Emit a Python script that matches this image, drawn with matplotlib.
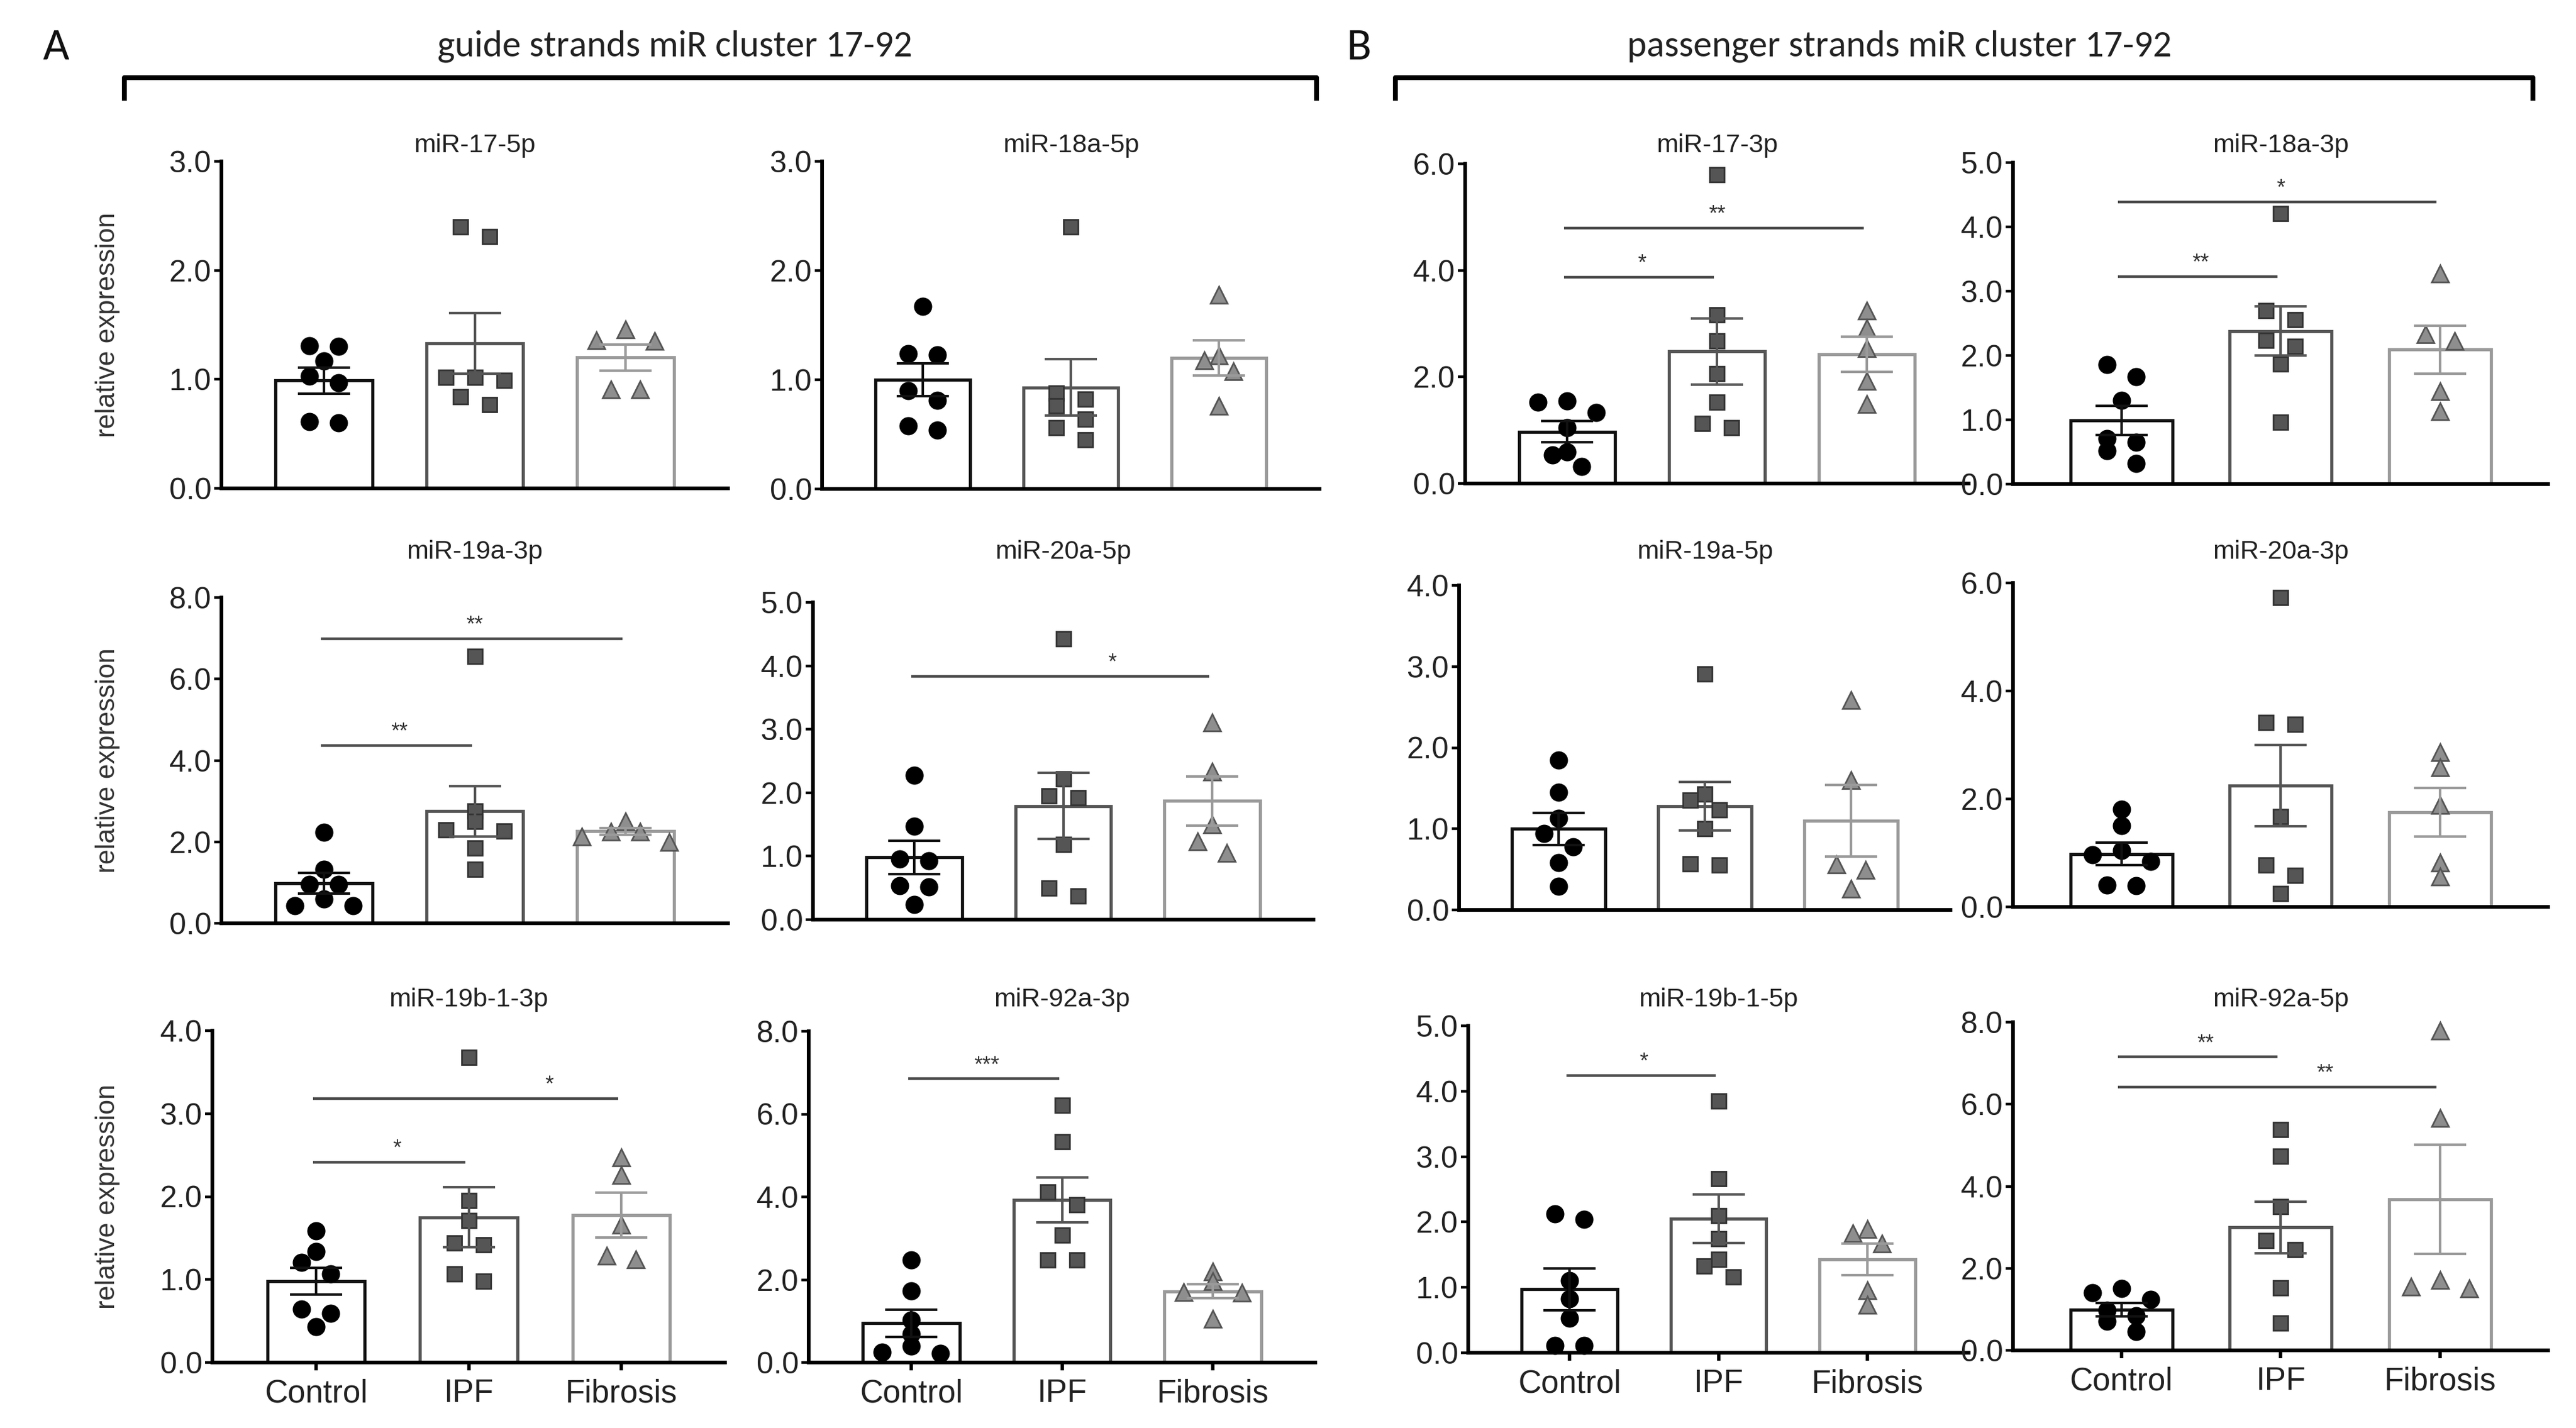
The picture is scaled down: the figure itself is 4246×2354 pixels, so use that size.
import numpy as np
import matplotlib
matplotlib.use("Agg")
from matplotlib import pyplot as plt
from matplotlib.lines import Line2D
from matplotlib.ticker import FormatStrFormatter

W, H = 4246, 2354
DPI = 200

groups = ["Control", "IPF", "Fibrosis"]

titles = ["miR-17-5p", "miR-18a-5p", "miR-17-3p", "miR-18a-3p",
          "miR-19a-3p", "miR-20a-5p", "miR-19a-5p", "miR-20a-3p",
          "miR-19b-1-3p", "miR-92a-3p", "miR-19b-1-5p", "miR-92a-5p"]
ymax = [3, 3, 6, 5, 8, 5, 4, 6, 4, 8, 5, 8]
ystep = [1, 1, 2, 1, 2, 1, 1, 2, 1, 2, 1, 2]

# individual samples per panel
control_pts = [
    [1.30, 1.31, 1.17, 1.03, 0.97, 0.61, 0.60],
    [1.67, 1.23, 1.24, 0.90, 0.81, 0.54, 0.58],
    [1.55, 1.52, 1.33, 1.05, 0.59, 0.53, 0.32],
    [1.86, 1.67, 1.30, 0.71, 0.65, 0.52, 0.32],
    [2.24, 1.33, 0.95, 0.95, 0.60, 0.43, 0.43],
    [2.28, 1.47, 0.93, 0.96, 0.52, 0.54, 0.24],
    [1.85, 1.45, 1.13, 0.94, 0.78, 0.58, 0.29],
    [1.81, 1.51, 1.05, 0.97, 0.84, 0.39, 0.41],
    [1.59, 1.34, 1.21, 1.07, 0.64, 0.59, 0.43],
    [2.47, 1.73, 1.03, 0.69, 0.40, 0.22, 0.25],
    [2.04, 2.12, 1.10, 0.83, 0.53, 0.11, 0.11],
    [1.51, 1.40, 1.24, 0.97, 0.84, 0.71, 0.46],
]
ipf_pts = [
    [2.31, 2.40, 0.99, 1.02, 1.02, 0.84, 0.77],
    [2.40, 0.88, 0.82, 0.76, 0.64, 0.56, 0.45],
    [5.80, 3.16, 2.67, 2.06, 1.52, 1.05, 1.13],
    [4.21, 2.70, 2.56, 2.24, 2.14, 1.87, 0.96],
    [6.56, 2.76, 2.51, 2.27, 2.29, 1.85, 1.33],
    [4.43, 2.22, 1.92, 1.95, 1.19, 0.50, 0.37],
    [2.91, 1.43, 1.35, 1.23, 1.00, 0.55, 0.57],
    [5.73, 3.38, 3.42, 1.67, 0.78, 0.58, 0.25],
    [3.68, 1.95, 1.71, 1.42, 1.44, 1.07, 0.98],
    [6.21, 5.33, 4.12, 3.81, 3.07, 2.47, 2.47],
    [3.85, 2.66, 2.10, 1.74, 1.43, 1.33, 1.16],
    [5.38, 4.73, 3.51, 2.67, 2.45, 1.53, 0.67],
]
fib_pts = [
    [1.35, 1.46, 1.36, 0.91, 0.91],
    [1.78, 1.22, 1.18, 1.08, 0.76],
    [3.25, 2.91, 2.54, 1.92, 1.49],
    [3.27, 2.23, 2.33, 1.44, 1.13],
    [2.51, 2.25, 2.13, 2.25, 1.99],
    [3.11, 2.33, 1.50, 1.23, 1.05],
    [2.59, 1.60, 0.49, 0.56, 0.26],
    [2.87, 2.58, 1.89, 0.82, 0.56],
    [2.47, 2.26, 1.66, 1.24, 1.29],
    [2.20, 1.97, 1.68, 1.70, 1.05],
    [1.89, 1.83, 1.67, 0.96, 0.73],
    [7.80, 5.67, 1.51, 1.71, 1.56],
]

# bar heights (mean) and error bars (SEM) as drawn
means = [
    [0.99, 1.33, 1.20], [1.00, 0.93, 1.20], [0.97, 2.48, 2.43], [0.99, 2.38, 2.09],
    [0.98, 2.75, 2.26], [0.98, 1.79, 1.87], [1.00, 1.28, 1.10], [0.98, 2.25, 1.75],
    [0.98, 1.75, 1.78], [0.95, 3.93, 1.72], [0.97, 2.05, 1.43], [0.99, 3.00, 3.68],
]
sems = [
    [0.12, 0.28, 0.12], [0.15, 0.26, 0.16], [0.20, 0.62, 0.33], [0.23, 0.38, 0.37],
    [0.25, 0.62, 0.08], [0.26, 0.52, 0.39], [0.20, 0.30, 0.44], [0.21, 0.75, 0.45],
    [0.16, 0.36, 0.27], [0.33, 0.54, 0.17], [0.32, 0.37, 0.24], [0.16, 0.63, 1.33],
]

# significance: (group a, group b, height, label, label x in group units)
sig = [
    [], [],
    [(0, 1, 3.87, "*", 0.5), (0, 2, 4.79, "**", 1.0)],
    [(0, 1, 3.23, "**", 0.5), (0, 2, 4.39, "*", 1.0)],
    [(0, 1, 4.37, "**", 0.5), (0, 2, 6.99, "**", 1.0)],
    [(0, 2, 3.83, "*", 1.33)],
    [], [],
    [(0, 1, 2.41, "*", 0.53), (0, 2, 3.18, "*", 1.53)],
    [(0, 1, 6.85, "***", 0.5)],
    [(0, 1, 4.24, "*", 0.5)],
    [(0, 1, 7.15, "**", 0.53), (0, 2, 6.42, "**", 1.28)],
]

# panel boxes in pixels: left, right, top, bottom
boxes = [
    (365, 1200, 266, 805), (1355, 2175, 266, 806),
    (2415, 3245, 270, 797), (3318, 4200, 268, 798),
    (365, 1200, 985, 1522), (1340, 2165, 993, 1516),
    (2405, 3215, 965, 1500), (3318, 4200, 961, 1495),
    (350, 1195, 1699, 2246), (1333, 2168, 1700, 2246),
    (2420, 3245, 1691, 2230), (3318, 4200, 1685, 2226),
]
title_y = [240, 240, 240, 240, 910, 910, 910, 910, 1648, 1648, 1648, 1648]

edge_cols = ["#111111", "#555555", "#9a9a9a"]
mk = [dict(marker="o", ms=9.8, mfc="black", mec="black"),
      dict(marker="s", ms=8.6, mfc="#555555", mec="#333333", mew=1.0),
      dict(marker="^", ms=9.8, mfc="#8e8e8e", mec="#555555", mew=1.0)]

TICKFONT = ["Liberation Sans Narrow", "Liberation Sans"]
FONT = ["Liberation Sans", "DejaVu Sans"]


def swarm(vals, center, ppu_y, ppu_x, diam=27, gap=48):
    vals = np.asarray(vals)
    order = np.argsort(vals)
    rows = []
    for k in order:
        if rows and (vals[k] - vals[rows[-1][0]]) * ppu_y < 0.8 * diam:
            rows[-1].append(k)
        else:
            rows.append([k])
    xs = np.zeros(len(vals))
    for r in rows:
        r = sorted(r, key=lambda k: -vals[k])
        n = len(r)
        if n % 2:
            slots = [0] + [s for m in range(1, n // 2 + 1) for s in (-m, m)]
        else:
            slots = [s for m in range(n // 2) for s in (-(m + 0.5), m + 0.5)]
        for k, s in zip(r, slots):
            xs[k] = center + s * gap / ppu_x
    return xs


fig = plt.figure(figsize=(W / DPI, H / DPI), dpi=DPI)

for p in range(12):
    l, r, t, b = boxes[p]
    ax = fig.add_axes([l / W, 1 - b / H, (r - l) / W, (b - t) / H])
    ax.set_xlim(-0.68, 2.68)
    ax.set_ylim(0, ymax[p])
    ppu_x = (r - l) / 3.36
    ppu_y = (b - t) / ymax[p]

    for s in ("top", "right"):
        ax.spines[s].set_visible(False)
    for s in ("left", "bottom"):
        ax.spines[s].set_linewidth(2.2)
        ax.spines[s].set_color("black")

    xs = np.arange(3)
    ax.bar(xs, means[p], width=0.64, color="white", edgecolor=edge_cols,
           linewidth=1.9, zorder=2)
    for g, pts in enumerate((control_pts[p], ipf_pts[p], fib_pts[p])):
        px = swarm(pts, g, ppu_y, ppu_x)
        ax.plot(px, pts, ls="none", zorder=3, clip_on=False, **mk[g])
        ax.errorbar(g, means[p][g], yerr=sems[p][g], fmt="none",
                    ecolor=edge_cols[g], elinewidth=1.5, capsize=15.5,
                    capthick=1.5, zorder=4)

    for a, c, yv, lab, lx in sig[p]:
        ax.plot([a - 0.02, c - 0.02], [yv, yv], color="#4a4a4a", lw=1.6,
                zorder=5, clip_on=False, solid_capstyle="butt")
        ax.text(lx, yv + 4 / ppu_y, lab, ha="center", va="bottom",
                fontsize=13, color="#333333", family=FONT, zorder=6)

    ax.set_yticks(np.arange(0, ymax[p] + 0.01, ystep[p]))
    ax.yaxis.set_major_formatter(FormatStrFormatter("%.1f"))
    ax.tick_params(axis="y", direction="out", length=4.5, width=1.6,
                   pad=1.5, labelsize=18, labelcolor="#222222")
    for lab in ax.get_yticklabels():
        lab.set_family(TICKFONT)

    if p >= 8:
        ax.set_xticks(xs)
        ax.set_xticklabels(groups, fontsize=19, color="#222222", family=FONT)
        ax.tick_params(axis="x", direction="out", length=4.5, width=2.0, pad=5)
    else:
        ax.set_xticks([])

    if p in (0, 4, 8):
        ax.set_ylabel("relative expression", fontsize=16, color="#333333",
                      family=FONT)
        ax.yaxis.set_label_coords((198 - l) / (r - l), 0.5)

    fig.text((l + r) / 2 / W, 1 - title_y[p] / H, titles[p], ha="center",
             va="center", fontsize=15.5, color="#222222", family=FONT)

# section brackets and headers
for x0, x1 in ((205, 2170), (2300, 4175)):
    fig.add_artist(Line2D([x0 / W, x0 / W, x1 / W, x1 / W],
                          [1 - 162 / H, 1 - 128 / H, 1 - 128 / H, 1 - 162 / H],
                          color="black", lw=2.9, solid_joinstyle="round"))

HEAD = ["Carlito", "Lato", "DejaVu Sans"]
fig.text(1112 / W, 1 - 76 / H, "guide strands miR cluster 17-92", ha="center",
         va="center", fontsize=22, color="#222222", family=HEAD)
fig.text(3131 / W, 1 - 76 / H, "passenger strands miR cluster 17-92",
         ha="center", va="center", fontsize=22, color="#222222", family=HEAD)
fig.text(92 / W, 1 - 78 / H, "A", ha="center", va="center", fontsize=27,
         color="#111111", family=HEAD)
fig.text(2240 / W, 1 - 78 / H, "B", ha="center", va="center", fontsize=27,
         color="#111111", family=HEAD)

fig.savefig("out.png", dpi=DPI, facecolor="white")
